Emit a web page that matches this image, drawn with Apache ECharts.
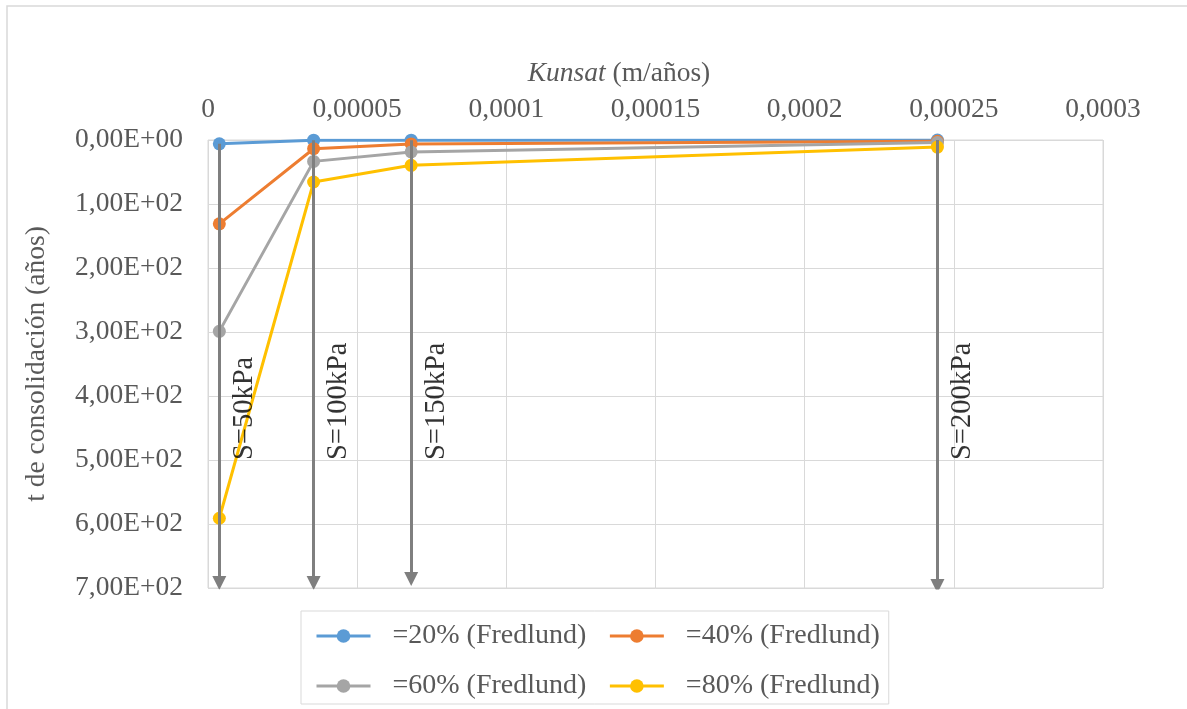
<!DOCTYPE html>
<html>
<head>
<meta charset="utf-8">
<script src="https://cdn.jsdelivr.net/npm/echarts@6/dist/echarts.min.js"></script>
<style>
  html, body { margin: 0; padding: 0; background: #fff; }
  #chart { width: 1187px; height: 709px; }
</style>
</head>
<body>
<div id="chart"></div>
<script>
// Unsaturated permeability (m/años) for each suction level
const kunsat = [3.8e-6, 3.54e-5, 6.81e-5, 2.445e-4];
// Consolidation time (años) per degree of consolidation
const tU20 = [6, 0.3, 0.2, 0.1];
const tU40 = [131, 13.6, 6.2, 2];
const tU60 = [299, 33.4, 18.7, 4];
const tU80 = [591, 65.6, 39.6, 11];
const seriesNames = ['=20% (Fredlund)', '=40% (Fredlund)', '=60% (Fredlund)', '=80% (Fredlund)'];
const seriesColors = ['#5B9BD5', '#ED7D31', '#A5A5A5', '#FFC000'];
// Suction annotations and where their arrows end (años)
const suctionLabels = ['S=50kPa', 'S=100kPa', 'S=150kPa', 'S=200kPa'];
const arrowEnd = [692, 692, 686, 697];
const labelAnchorT = 500;
// Axis tick labels
const xTickLabels = ['0', '0,00005', '0,0001', '0,00015', '0,0002', '0,00025', '0,0003'];
const yTickLabels = ['0,00E+00', '1,00E+02', '2,00E+02', '3,00E+02', '4,00E+02', '5,00E+02', '6,00E+02', '7,00E+02'];

const FONT = 'Liberation Serif';
const GREY_TEXT = '#595959';
const FS = 27.5;

const allT = [tU20, tU40, tU60, tU80];
const lineSeries = allT.map((vals, i) => ({
  name: seriesNames[i],
  type: 'line',
  data: kunsat.map((k, j) => [k, vals[j]]),
  symbol: 'circle',
  symbolSize: 13,
  color: seriesColors[i],
  lineStyle: { width: 3, color: seriesColors[i] },
  itemStyle: { color: seriesColors[i] },
  z: 3 + i,
  animation: false
}));

// Downward arrows marking each suction level
const arrowSeries = {
  type: 'lines',
  coordinateSystem: 'cartesian2d',
  z: 10,
  symbol: ['none', 'triangle'],
  symbolSize: [17, 14],
  lineStyle: { color: '#7F7F7F', width: 3, opacity: 1, curveness: 0 },
  itemStyle: { color: '#7F7F7F' },
  data: kunsat.map((k, j) => ({ coords: [[k, tU20[j]], [k, arrowEnd[j]]] })),
  animation: false,
  silent: true
};

// Vertical suction labels beside the arrows
const labelSeries = {
  type: 'scatter',
  symbolSize: 0,
  z: 11,
  data: kunsat.map((k, j) => ({ value: [k, labelAnchorT], name: suctionLabels[j] })),
  label: {
    show: true,
    position: 'inside',
    rotate: 90,
    align: 'left',
    verticalAlign: 'middle',
    offset: [0, 25],
    formatter: p => p.name,
    fontFamily: FONT,
    fontSize: 28.5,
    color: '#000'
  },
  silent: true,
  animation: false
};

const chart = echarts.init(document.getElementById('chart'), null, { renderer: 'canvas' });
chart.setOption({
  backgroundColor: '#fff',
  animation: false,
  textStyle: { fontFamily: FONT },
  title: {
    text: '{i|Kunsat} (m/años)',
    left: 614,
    top: 55,
    textAlign: 'center',
    textStyle: {
      fontFamily: FONT, fontSize: FS, fontWeight: 'normal', color: GREY_TEXT,
      rich: { i: { fontFamily: FONT, fontSize: FS, fontStyle: 'italic', color: GREY_TEXT } }
    }
  },
  graphic: [{
    type: 'rect',
    shape: { x: 7, y: 6, width: 1400, height: 900 },
    style: { fill: 'none', stroke: '#D9D9D9', lineWidth: 1.5 },
    silent: true,
    z: -1
  }],
  grid: { left: 208, right: 84, top: 140, bottom: 121, show: true, borderColor: '#D9D9D9', borderWidth: 1 },
  xAxis: {
    type: 'value',
    position: 'top',
    min: 0,
    max: 0.0003,
    interval: 0.00005,
    axisLine: { show: false },
    axisTick: { show: false },
    splitLine: { show: true, lineStyle: { color: '#D9D9D9', width: 1 } },
    axisLabel: {
      margin: 16,
      fontFamily: FONT, fontSize: FS, color: GREY_TEXT,
      formatter: v => xTickLabels[Math.round(v / 0.00005)]
    }
  },
  yAxis: {
    type: 'value',
    inverse: true,
    min: 0,
    max: 700,
    interval: 100,
    name: 't de consolidación (años)',
    nameLocation: 'middle',
    nameGap: 157,
    nameRotate: 90,
    nameTextStyle: { fontFamily: FONT, fontSize: FS, color: GREY_TEXT },
    axisLine: { show: false },
    axisTick: { show: false },
    splitLine: { show: true, lineStyle: { color: '#D9D9D9', width: 1 } },
    axisLabel: {
      margin: 25,
      fontFamily: FONT, fontSize: FS, color: GREY_TEXT,
      formatter: v => yTickLabels[Math.round(v / 100)]
    }
  },
  legend: {
    data: seriesNames,
    left: 301,
    top: 611,
    width: 580,
    padding: [11, 9, 4, 14],
    itemGap: 22,
    itemWidth: 54,
    itemHeight: 17,
    borderColor: '#D9D9D9',
    borderWidth: 1,
    lineStyle: { width: 3 },
    textStyle: { fontFamily: FONT, fontSize: 28, color: GREY_TEXT, lineHeight: 28, padding: [0, 0, 0, 17] }
  },
  series: [...lineSeries, arrowSeries, labelSeries]
});
</script>
</body>
</html>
